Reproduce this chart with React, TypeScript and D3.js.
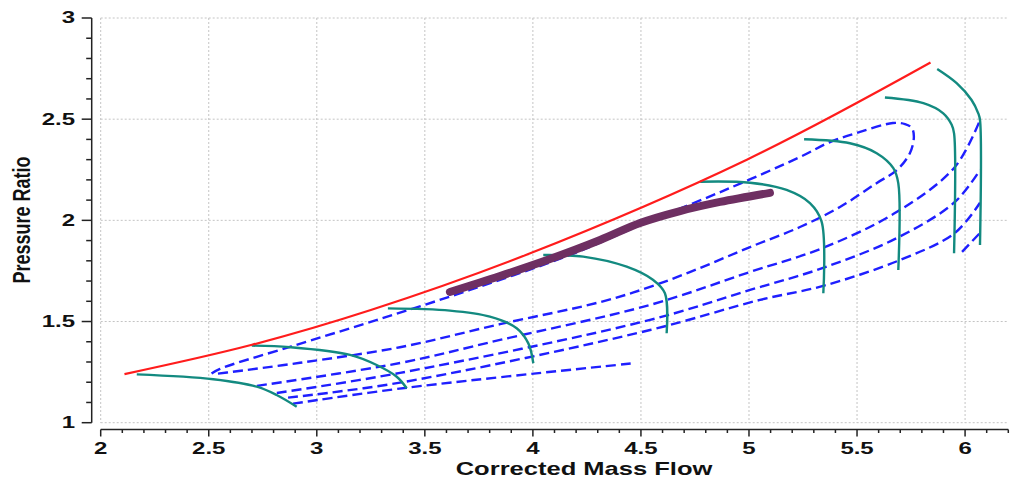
import React from 'react';
import * as d3 from 'd3';

// surge line
const surgeFlow = [2.11, 2.7, 3.25, 3.97, 4.99, 5.84];
const surgePR = [1.24, 1.385, 1.557, 1.83, 2.3, 2.78];

// speed lines [flow, pressure ratio]
const speed1 = [[2.167, 1.239], [2.521, 1.215], [2.722, 1.178], [2.814, 1.137], [2.907, 1.079]];
const speed2 = [[2.699, 1.381], [2.876, 1.373], [3.154, 1.335], [3.277, 1.285], [3.37, 1.227], [3.416, 1.17]];
const speed3 = [[3.329, 1.565], [3.616, 1.554], [3.801, 1.524], [3.925, 1.467], [3.979, 1.392], [4.002, 1.294]];
const speed4 = [[4.048, 1.829], [4.233, 1.821], [4.434, 1.771], [4.557, 1.705], [4.611, 1.64], [4.619, 1.442]];
const speed5 = [[4.774, 2.191], [5.005, 2.186], [5.174, 2.15], [5.282, 2.085], [5.336, 1.994], [5.344, 1.64]];
const speed6 = [[5.255, 2.401], [5.467, 2.381], [5.591, 2.332], [5.668, 2.258], [5.691, 2.183], [5.691, 1.755]];
const speed7 = [[5.629, 2.607], [5.807, 2.579], [5.899, 2.529], [5.938, 2.472], [5.949, 2.43], [5.949, 1.837]];
const speed8 = [[5.871, 2.748], [5.961, 2.678], [6.03, 2.595], [6.061, 2.529], [6.069, 2.496], [6.069, 1.878]];
const speedLines = [speed1, speed2, speed3, speed4, speed5, speed6, speed7, speed8];

// efficiency contours
const effLoop = [
  [2.513, 1.243], [2.552, 1.266], [2.876, 1.375], [3.279, 1.508], [3.709, 1.656], [4.172, 1.829],
  [4.542, 1.997], [4.912, 2.16], [5.236, 2.313], [5.375, 2.387], [5.514, 2.437], [5.666, 2.481],
  [5.722, 2.476], [5.754, 2.456], [5.763, 2.412], [5.745, 2.333], [5.685, 2.249], [5.592, 2.185],
  [5.421, 2.066], [5.236, 1.967], [5.005, 1.868], [4.774, 1.765], [4.542, 1.671], [4.311, 1.596],
  [3.848, 1.487], [3.385, 1.373], [2.922, 1.296], [2.598, 1.25], [2.529, 1.241],
];
const eff2 = [[2.723, 1.182], [3.385, 1.295], [3.848, 1.409], [4.542, 1.582], [5.005, 1.745], [5.343, 1.864], [5.685, 2.042], [5.953, 2.264], [6.069, 2.496]];
const eff3 = [[2.815, 1.147], [3.385, 1.246], [4.542, 1.508], [5.005, 1.656], [5.343, 1.765], [5.685, 1.913], [5.953, 2.091], [6.069, 2.249]];
const eff4 = [[2.867, 1.124], [3.385, 1.198], [4.542, 1.458], [5.051, 1.607], [5.343, 1.676], [5.699, 1.804], [5.953, 1.938], [6.069, 2.087]];
const eff5a = [[2.89, 1.094], [3.417, 1.173], [4.459, 1.293]];
const eff5b = [[5.986, 1.844], [6.069, 1.938]];
const effLines = [effLoop, eff2, eff3, eff4, eff5a, eff5b];

// operating line
const opFlow = [3.616, 3.848, 4.079, 4.311, 4.496, 4.681, 4.866, 5.097];
const opPR = [1.646, 1.725, 1.809, 1.903, 1.987, 2.046, 2.091, 2.136];

const xTicks = [2, 2.5, 3, 3.5, 4, 4.5, 5, 5.5, 6];
const xTickLabels = ['2', '2.5', '3', '3.5', '4', '4.5', '5', '5.5', '6'];
const yTicks = [1, 1.5, 2, 2.5, 3];
const yTickLabels = ['1', '1.5', '2', '2.5', '3'];

const W = 1011, H = 482;
const FONT = '"Liberation Sans", Arial, sans-serif';

export default function App() {
  const x = d3.scaleLinear().domain([2, 6.2]).range([100.7, 1008.3]);
  const y = d3.scaleLinear().domain([1, 3]).range([422.7, 18]);

  const xMinor = d3.range(20, 63).map(d => d / 10);
  const yMinor = d3.range(10, 31).map(d => d / 10);

  const line = d3.line<number[]>()
    .x(d => x(d[0]))
    .y(d => y(d[1]))
    .curve(d3.curveCatmullRom.alpha(0.5));

  const surge = surgeFlow.map((f, i) => [f, surgePR[i]]);
  const op = opFlow.map((f, i) => [f, opPR[i]]);

  const axisY = 429.5;
  const axisX = 91.7;

  return (
    <svg width={W} height={H} style={{ position: 'absolute', left: 0, top: 0, background: '#fff' }}>
      {/* grid */}
      <g stroke="#c4c4c4" strokeWidth={1} strokeDasharray="2,2">
        {xTicks.map(t => (
          <line key={'gx' + t} x1={x(t)} x2={x(t)} y1={y(3)} y2={y(1)} />
        ))}
        {yTicks.map(t => (
          <line key={'gy' + t} x1={x(2)} x2={x(6.2)} y1={y(t)} y2={y(t)} />
        ))}
      </g>

      {/* y axis */}
      <g stroke="#222" strokeWidth={1.5}>
        <line x1={axisX} x2={axisX} y1={y(3)} y2={y(1)} />
        {yMinor.map(t => {
          const major = Math.abs(t * 2 - Math.round(t * 2)) < 1e-6;
          return <line key={'ty' + t} x1={axisX - (major ? 10 : 5.5)} x2={axisX} y1={y(t)} y2={y(t)} />;
        })}
      </g>
      {yTicks.map((t, i) => (
        <text key={'ly' + t} transform={`translate(75,${y(t)}) scale(1.5,1)`} textAnchor="end"
          dominantBaseline="central" fontFamily={FONT} fontWeight="bold" fontSize={16} fill="#111">
          {yTickLabels[i]}
        </text>
      ))}

      {/* x axis */}
      <g stroke="#222" strokeWidth={1.5}>
        <line x1={x(2)} x2={x(6.2)} y1={axisY} y2={axisY} />
        {xMinor.map(t => {
          const major = Math.abs(t * 2 - Math.round(t * 2)) < 1e-6;
          return <line key={'tx' + t} x1={x(t)} x2={x(t)} y1={axisY} y2={axisY + (major ? 7 : 3.5)} />;
        })}
      </g>
      {xTicks.map((t, i) => (
        <text key={'lx' + t} transform={`translate(${x(t)},454) scale(1.5,1)`} textAnchor="middle"
          fontFamily={FONT} fontWeight="bold" fontSize={16} fill="#111">
          {xTickLabels[i]}
        </text>
      ))}

      <text transform="translate(584,475) scale(1.38,1)" textAnchor="middle" fontFamily={FONT}
        fontWeight="bold" fontSize={18.5} fill="#111">Corrected Mass Flow</text>
      <text transform="translate(30,220) scale(1.3,1) rotate(-90)" textAnchor="middle" fontFamily={FONT}
        fontWeight="bold" fontSize={18} fill="#111">Pressure Ratio</text>

      {/* efficiency contours */}
      {effLines.map((d, i) => (
        <path key={'eff' + i} d={line(d) || ''} fill="none" stroke="#1f1fff" strokeWidth={2.4}
          strokeDasharray="10,5" />
      ))}

      {/* speed lines */}
      {speedLines.map((d, i) => (
        <path key={'spd' + i} d={line(d) || ''} fill="none" stroke="#138a80" strokeWidth={2.4} />
      ))}

      {/* surge line */}
      <path d={line(surge) || ''} fill="none" stroke="#ff1c1c" strokeWidth={2.2} />

      {/* operating line */}
      <path d={line(op) || ''} fill="none" stroke="#6e2f62" strokeWidth={8} strokeLinecap="round" />
    </svg>
  );
}
